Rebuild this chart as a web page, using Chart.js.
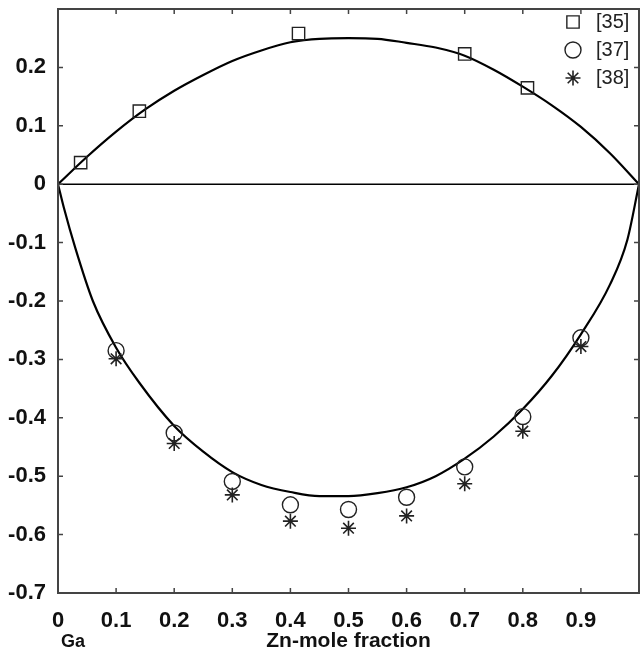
<!DOCTYPE html>
<html>
<head>
<meta charset="utf-8">
<script src="https://cdn.jsdelivr.net/npm/chart.js@4.4.1/dist/chart.umd.min.js"></script>
<style>
  html, body { margin: 0; padding: 0; background: #fff; overflow: hidden; }
</style>
</head>
<body>
<canvas id="mixChart" width="640" height="648"></canvas>
<script>
// values

// measured points
const ref35X = [0.039, 0.140, 0.414, 0.700, 0.808];
const ref35Y = [0.037, 0.125, 0.258, 0.223, 0.165];
const ref37X = [0.1, 0.2, 0.3, 0.4, 0.5, 0.6, 0.7, 0.8, 0.9];
const ref37Y = [-0.285, -0.426, -0.509, -0.549, -0.557, -0.536, -0.484, -0.398, -0.263];
const ref38X = [0.1, 0.2, 0.3, 0.4, 0.5, 0.6, 0.7, 0.8, 0.9];
const ref38Y = [-0.299, -0.444, -0.532, -0.577, -0.589, -0.568, -0.513, -0.423, -0.278];

// upper curve
const upperX = [0, 0.05, 0.1, 0.15, 0.2, 0.25, 0.3, 0.35, 0.4, 0.45, 0.5, 0.55, 0.6, 0.65, 0.7, 0.75, 0.8, 0.85, 0.9, 0.95, 1];
const upperY = [0, 0.047, 0.09, 0.128, 0.16, 0.187, 0.211, 0.229, 0.243, 0.249, 0.25, 0.249, 0.242, 0.234, 0.22, 0.196, 0.167, 0.135, 0.098, 0.053, 0];

// lower curve
const lowerX = [0, 0.01, 0.03, 0.06, 0.1, 0.14, 0.2, 0.25, 0.3, 0.35, 0.4, 0.45, 0.5, 0.55, 0.6, 0.65, 0.7, 0.75, 0.8, 0.85, 0.9, 0.95, 0.98, 1];
const lowerY = [0, -0.04, -0.11, -0.2, -0.28, -0.34, -0.414, -0.458, -0.493, -0.515, -0.527, -0.534, -0.534, -0.529, -0.519, -0.5, -0.47, -0.432, -0.385, -0.328, -0.257, -0.172, -0.095, 0];

// zero line
const zeroX = [0, 1];
const zeroY = [0, 0];

// axes: tick marks at all of these, labels only where the figure shows them
const xTicks = [0, 0.1, 0.2, 0.3, 0.4, 0.5, 0.6, 0.7, 0.8, 0.9, 1];
const yTicks = [-0.7, -0.6, -0.5, -0.4, -0.3, -0.2, -0.1, 0, 0.1, 0.2, 0.3];
const xLabelled = [0, 0.1, 0.2, 0.3, 0.4, 0.5, 0.6, 0.7, 0.8, 0.9];
const yLabelled = [-0.7, -0.6, -0.5, -0.4, -0.3, -0.2, -0.1, 0, 0.1, 0.2];
const legendLabels = ["[35]", "[37]", "[38]"];

const pts = (xs, ys) => xs.map((x, i) => ({ x: x, y: ys[i] }));

const tickFont = { family: "'Liberation Sans', Arial, sans-serif", size: 22, weight: "bold" };

// box round the plot with inward ticks, MATLAB style
const boxPlugin = {
  id: "box",
  afterDatasetsDraw(chart) {
    const { ctx, chartArea: a, scales } = chart;
    ctx.save();
    ctx.strokeStyle = "#444";
    ctx.lineWidth = 2;
    ctx.strokeRect(a.left, a.top, a.right - a.left, a.bottom - a.top);
    ctx.lineWidth = 1.5;
    ctx.beginPath();
    xTicks.forEach(v => {
      const px = scales.x.getPixelForValue(v);
      ctx.moveTo(px, a.bottom); ctx.lineTo(px, a.bottom - 5);
      ctx.moveTo(px, a.top); ctx.lineTo(px, a.top + 5);
    });
    yTicks.forEach(v => {
      const py = scales.y.getPixelForValue(v);
      ctx.moveTo(a.left, py); ctx.lineTo(a.left + 5, py);
      ctx.moveTo(a.right, py); ctx.lineTo(a.right - 5, py);
    });
    ctx.stroke();

    // "Ga" under the origin
    ctx.fillStyle = "#111";
    ctx.font = "bold 18px 'Liberation Sans', Arial, sans-serif";
    ctx.textAlign = "left";
    ctx.textBaseline = "middle";
    ctx.fillText("Ga", a.left + 3, 642);
    ctx.restore();
  }
};

// legend inside the plot, top right
const legendPlugin = {
  id: "innerLegend",
  afterDraw(chart) {
    const { ctx, chartArea: a } = chart;
    ctx.save();
    ctx.font = "20px 'Liberation Sans', Arial, sans-serif";
    ctx.textAlign = "left";
    ctx.textBaseline = "middle";
    [0, 1, 2].forEach(i => {
      const ds = chart.data.datasets[i];
      const y = a.top + 13 + i * 28;
      const x = a.right - 66;
      ctx.fillStyle = "rgba(0,0,0,0)";
      ctx.strokeStyle = ds.borderColor;
      ctx.lineWidth = ds.borderWidth;
      Chart.helpers.drawPoint(ctx, {
        pointStyle: ds.pointStyle,
        radius: ds.pointRadius,
        borderWidth: ds.borderWidth,
        rotation: 0
      }, x, y);
      ctx.fillStyle = "#222";
      ctx.fillText(legendLabels[i], x + 23, y);
    });
    ctx.restore();
  }
};

new Chart("mixChart", {
  type: "scatter",
  data: {
    datasets: [{
      label: legendLabels[0],
      data: pts(ref35X, ref35Y),
      pointStyle: "rect",
      pointRadius: 8.7,
      borderColor: "#222",
      backgroundColor: "rgba(0,0,0,0)",
      borderWidth: 1.4
    }, {
      label: legendLabels[1],
      data: pts(ref37X, ref37Y),
      pointStyle: "circle",
      pointRadius: 8,
      borderColor: "#222",
      backgroundColor: "rgba(0,0,0,0)",
      borderWidth: 1.4
    }, {
      label: legendLabels[2],
      data: pts(ref38X, ref38Y),
      pointStyle: "star",
      pointRadius: 7.5,
      borderColor: "#222",
      backgroundColor: "rgba(0,0,0,0)",
      borderWidth: 1.6
    }, {
      data: pts(upperX, upperY),
      showLine: true,
      pointRadius: 0,
      borderColor: "#000",
      borderWidth: 2.2,
      cubicInterpolationMode: "monotone"
    }, {
      data: pts(lowerX, lowerY),
      showLine: true,
      pointRadius: 0,
      borderColor: "#000",
      borderWidth: 2.2,
      cubicInterpolationMode: "monotone"
    }, {
      data: pts(zeroX, zeroY),
      showLine: true,
      pointRadius: 0,
      borderColor: "#000",
      borderWidth: 1.5
    }]
  },
  options: {
    responsive: false,
    animation: false,
    devicePixelRatio: 1,
    layout: { autoPadding: false, padding: { top: 9, right: 1, left: 0, bottom: 0 } },
    plugins: {
      legend: { display: false },
      tooltip: { enabled: false }
    },
    scales: {
      x: {
        type: "linear",
        min: 0,
        max: 1,
        afterBuildTicks: s => { s.ticks = xLabelled.map(v => ({ value: v })); },
        afterFit: s => { s.height = 55; s.paddingLeft = 0; s.paddingRight = 0; },
        grid: { display: false },
        border: { display: false },
        ticks: {
          font: tickFont,
          color: "#111",
          padding: 7,
          maxRotation: 0,
          autoSkip: false,
          callback: v => String(v)
        },
        title: {
          display: true,
          text: "Zn-mole fraction",
          color: "#111",
          font: { family: "'Liberation Sans', Arial, sans-serif", size: 21, weight: "bold", lineHeight: 1 },
          padding: { top: 0, bottom: -4 }
        }
      },
      y: {
        type: "linear",
        min: -0.7,
        max: 0.3,
        afterBuildTicks: s => { s.ticks = yLabelled.map(v => ({ value: v })); },
        afterFit: s => { s.width = 58; s.paddingTop = 0; s.paddingBottom = 0; },
        grid: { display: false },
        border: { display: false },
        ticks: {
          font: tickFont,
          color: "#111",
          padding: 4,
          autoSkip: false,
          callback: v => String(v)
        }
      }
    }
  },
  plugins: [boxPlugin, legendPlugin]
});
</script>
</body>
</html>
